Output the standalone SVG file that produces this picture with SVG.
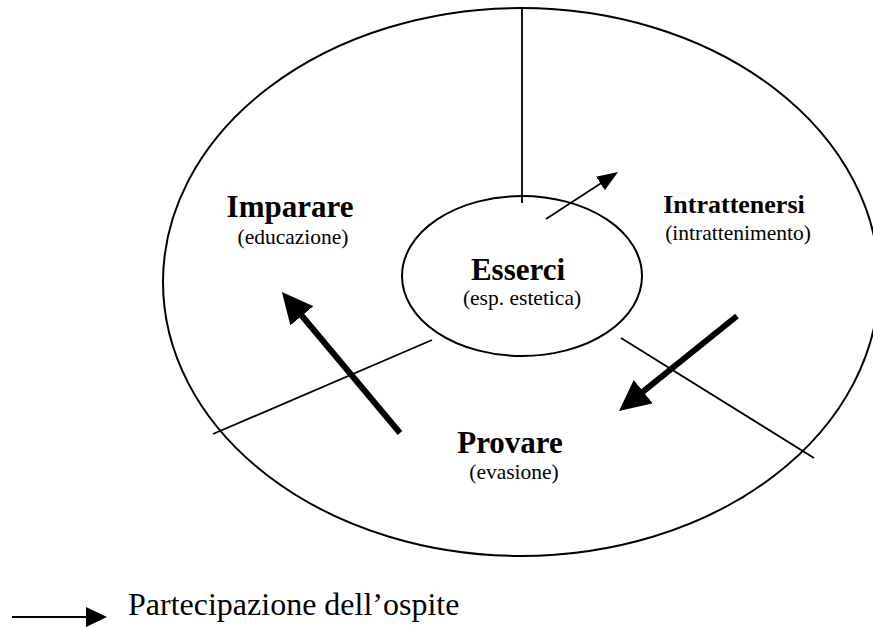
<svg xmlns="http://www.w3.org/2000/svg" width="873" height="627" viewBox="0 0 873 627">
  <style>
    .ring { fill: none; stroke: #000; stroke-width: 2; }
    .divider { stroke: #000; stroke-width: 1.8; fill: none; }
    .thin { stroke: #000; stroke-width: 1.8; fill: none; }
    .thick { stroke: #000; stroke-width: 6; fill: none; }
    .title { font-family: "Liberation Serif", "Times New Roman", serif; font-weight: bold; fill: #000; text-anchor: middle; }
    .sub { font-family: "Liberation Serif", "Times New Roman", serif; font-size: 21.5px; fill: #000; text-anchor: middle; }
    .legend { font-family: "Liberation Serif", "Times New Roman", serif; font-size: 32px; fill: #000; }
  </style>
  <defs>
    <marker id="headBig" markerUnits="userSpaceOnUse" markerWidth="31" markerHeight="30" refX="1" refY="15" orient="auto">
      <path d="M0,0 L31,15 L0,30 z" fill="#000"/>
    </marker>
    <marker id="headSmall" markerUnits="userSpaceOnUse" markerWidth="21" markerHeight="16" refX="1" refY="8" orient="auto">
      <path d="M0,0 L21,8 L0,16 z" fill="#000"/>
    </marker>
    <marker id="headLegend" markerUnits="userSpaceOnUse" markerWidth="21" markerHeight="20" refX="1" refY="10" orient="auto">
      <path d="M0,0 L21,10 L0,20 z" fill="#000"/>
    </marker>
  </defs>

  <!-- outer ring and sector dividers -->
  <g id="outer-ring">
    <ellipse class="ring" cx="521" cy="282" rx="358" ry="274"/>
  </g>
  <g id="dividers">
    <line class="divider" x1="522" y1="8" x2="522" y2="203"/>
    <line class="divider" x1="213" y1="434" x2="432" y2="340"/>
    <line class="divider" x1="621" y1="338" x2="814" y2="458"/>
  </g>

  <!-- centre: Esserci -->
  <g id="node-esserci">
    <ellipse class="ring" cx="522" cy="276" rx="120" ry="80"/>
    <text class="title" x="518" y="280" font-size="31">Esserci</text>
    <text class="sub" x="522" y="305">(esp. estetica)</text>
  </g>

  <!-- sectors -->
  <g id="node-imparare">
    <text class="title" x="290" y="217" font-size="31">Imparare</text>
    <text class="sub" x="293" y="244">(educazione)</text>
  </g>
  <g id="node-intrattenersi">
    <text class="title" x="734" y="213" font-size="26">Intrattenersi</text>
    <text class="sub" x="738" y="240">(intrattenimento)</text>
  </g>
  <g id="node-provare">
    <text class="title" x="510" y="453" font-size="31">Provare</text>
    <text class="sub" x="514" y="479">(evasione)</text>
  </g>

  <!-- participation arrows -->
  <g id="connectors">
    <line class="thin" x1="546" y1="219" x2="601.3" y2="182.9" marker-end="url(#headSmall)"/>
    <line class="thick" x1="737" y1="316" x2="642.4" y2="392.2" marker-end="url(#headBig)"/>
    <line class="thick" x1="400" y1="433" x2="301.2" y2="315" marker-end="url(#headBig)"/>
  </g>

  <!-- legend -->
  <g id="legend">
    <line class="thin" x1="12" y1="617" x2="87" y2="617" marker-end="url(#headLegend)"/>
    <text class="legend" x="128" y="615">Partecipazione dell’ospite</text>
  </g>
</svg>
